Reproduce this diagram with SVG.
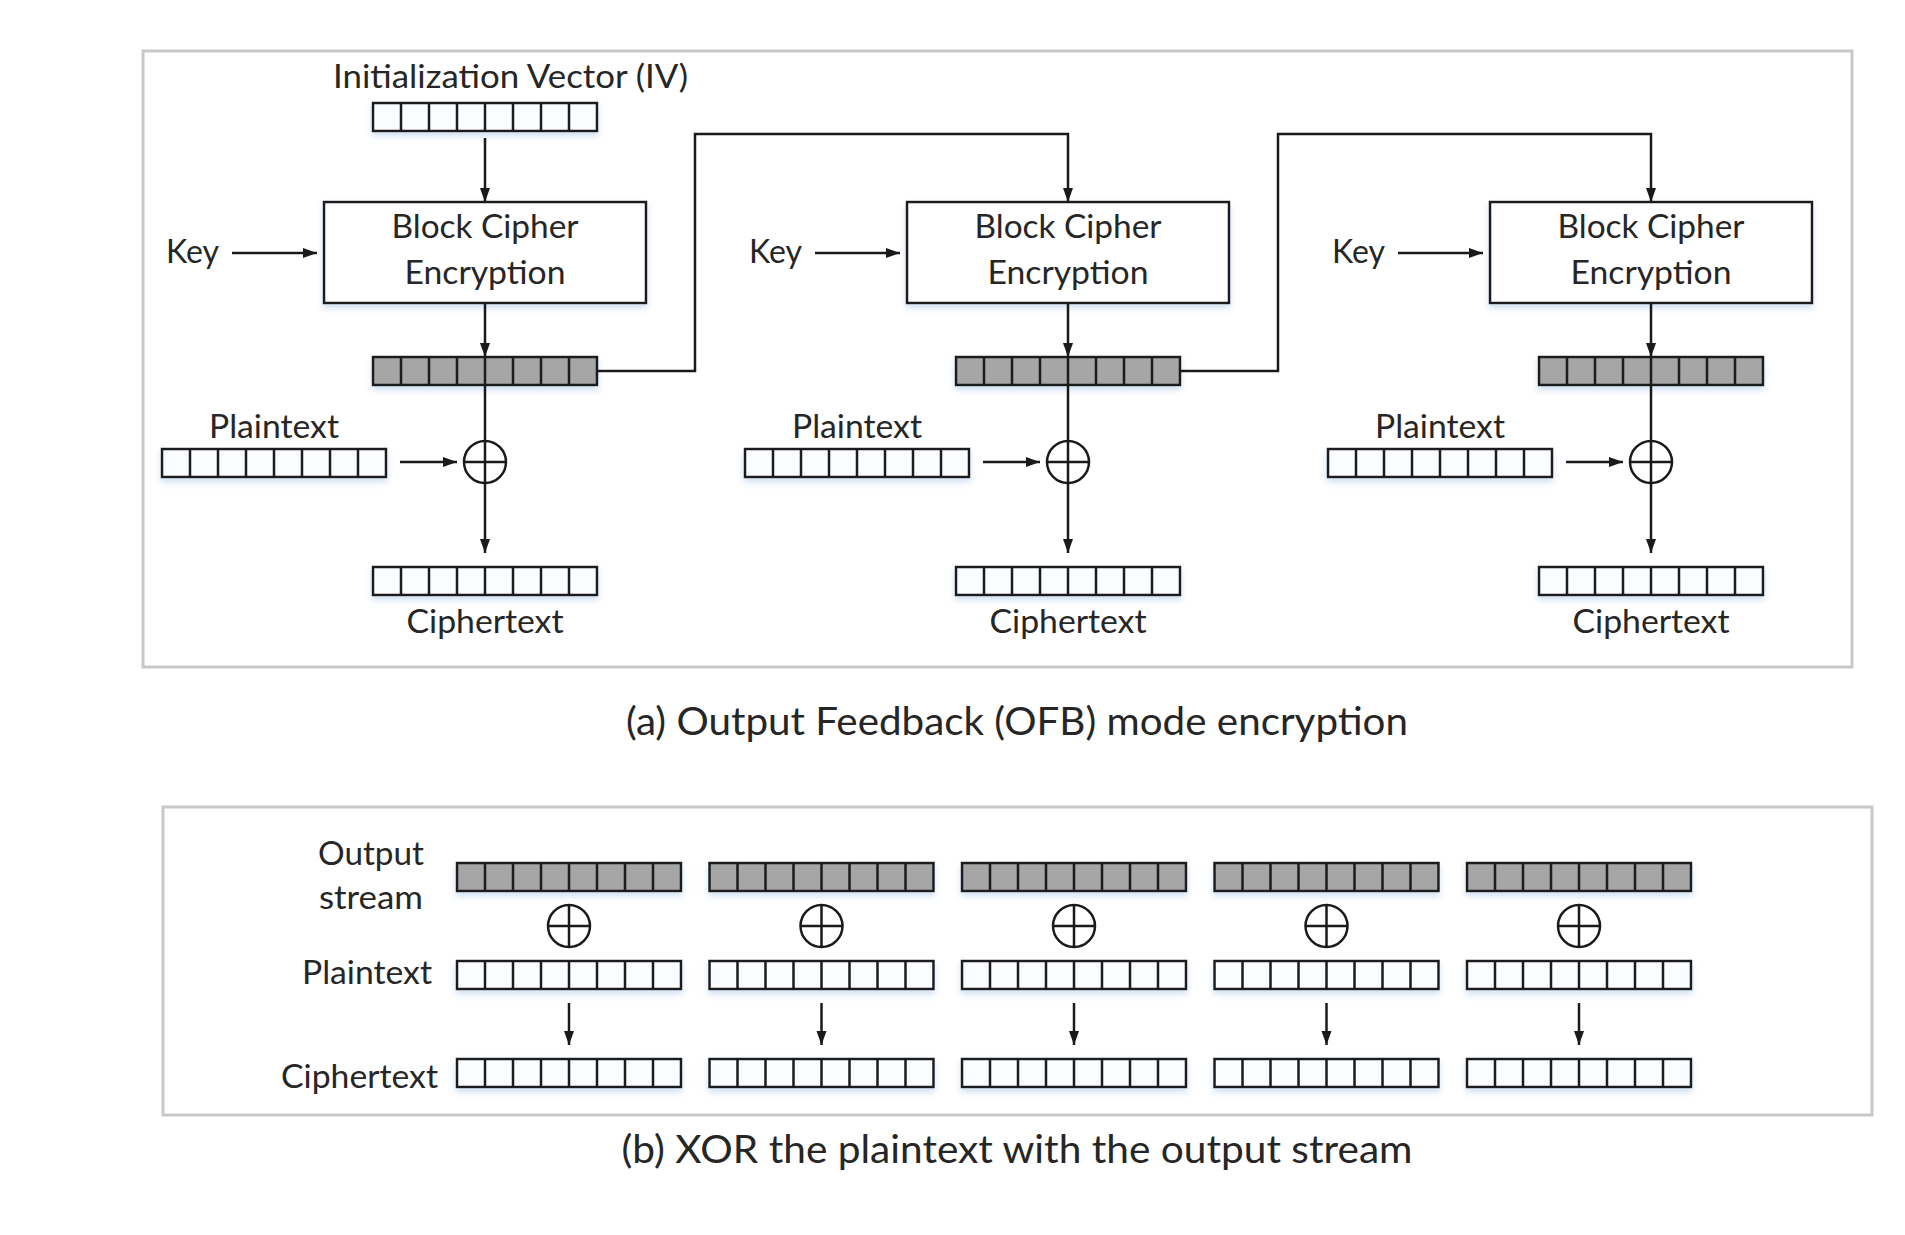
<svg xmlns="http://www.w3.org/2000/svg" xmlns:xlink="http://www.w3.org/1999/xlink" width="1905" height="1235" viewBox="0 0 1905 1235">
<style>
  text { font-family: Lato, "Liberation Sans", sans-serif; fill: #262626; }
  .lbl { font-size: 32px; }
  .cap { font-size: 39px; }
  .frame { fill: #ffffff; stroke: #c8c8c8; stroke-width: 3; }
  .blk { fill: #ffffff; stroke: #1a1a1a; stroke-width: 2.5; }
  .ln { fill: none; stroke: #1a1a1a; stroke-width: 2.5; }
  .arr { fill: none; stroke: #1a1a1a; stroke-width: 2.5; marker-end: url(#ah); }
  .xor { fill: none; stroke: #1a1a1a; stroke-width: 2.5; }
</style>
<defs>
  <filter id="sh" x="-10%" y="-30%" width="120%" height="180%">
    <feDropShadow dx="0" dy="4" stdDeviation="3" flood-color="#8fb2e0" flood-opacity="0.4"/>
  </filter>
  <marker id="ah" markerUnits="userSpaceOnUse" markerWidth="16" markerHeight="12" refX="14" refY="5" orient="auto">
    <path d="M0,0 L14,5 L0,10 z" fill="#1a1a1a"/>
  </marker>
  <g id="regW">
    <rect x="0" y="0" width="224" height="28" fill="#fbfcff" stroke="#1a1a1a" stroke-width="2.5"/>
    <path d="M28 0v28M56 0v28M84 0v28M112 0v28M140 0v28M168 0v28M196 0v28" stroke="#1a1a1a" stroke-width="2.5"/>
  </g>
  <g id="regG">
    <rect x="0" y="0" width="224" height="28" fill="#a6a6a6" stroke="#1a1a1a" stroke-width="2.5"/>
    <path d="M28 0v28M56 0v28M84 0v28M112 0v28M140 0v28M168 0v28M196 0v28" stroke="#1a1a1a" stroke-width="2.5"/>
  </g>
</defs>
<rect width="1905" height="1235" fill="#ffffff"/>

<g id="frame-a"><rect class="frame" x="143" y="51" width="1709" height="616"/></g>
<g id="frame-b"><rect class="frame" x="163" y="807" width="1709" height="308"/></g>

<g id="iv">
  <text class="lbl" x="333" y="88" textLength="355" lengthAdjust="spacingAndGlyphs">Initialization Vector (IV)</text>
  <use xlink:href="#regW" x="373" y="103" filter="url(#sh)"/>
</g>

<g id="stage1">
  <g id="s1-block"><rect class="blk" x="324" y="202" width="322" height="101" filter="url(#sh)"/>
    <text class="lbl" x="485" y="238" text-anchor="middle" textLength="187" lengthAdjust="spacingAndGlyphs">Block Cipher</text>
    <text class="lbl" x="485" y="284" text-anchor="middle" textLength="161" lengthAdjust="spacingAndGlyphs">Encryption</text></g>
  <g id="s1-key"><text class="lbl" x="166" y="263" textLength="53" lengthAdjust="spacingAndGlyphs">Key</text></g>
  <g id="s1-out"><use xlink:href="#regG" x="373" y="357" filter="url(#sh)"/></g>
  <g id="s1-plain"><text class="lbl" x="274" y="438" text-anchor="middle" textLength="130" lengthAdjust="spacingAndGlyphs">Plaintext</text>
    <use xlink:href="#regW" x="162" y="449" filter="url(#sh)"/></g>
  <g id="s1-xor"><circle class="xor" cx="485" cy="462" r="21"/><path class="ln" d="M464 462H506"/></g>
  <g id="s1-cipher"><use xlink:href="#regW" x="373" y="567" filter="url(#sh)"/>
    <text class="lbl" x="485" y="633" text-anchor="middle" textLength="157" lengthAdjust="spacingAndGlyphs">Ciphertext</text></g>
</g>

<g id="stage2" transform="translate(583,0)">
  <g id="s2-block"><rect class="blk" x="324" y="202" width="322" height="101" filter="url(#sh)"/>
    <text class="lbl" x="485" y="238" text-anchor="middle" textLength="187" lengthAdjust="spacingAndGlyphs">Block Cipher</text>
    <text class="lbl" x="485" y="284" text-anchor="middle" textLength="161" lengthAdjust="spacingAndGlyphs">Encryption</text></g>
  <g id="s2-key"><text class="lbl" x="166" y="263" textLength="53" lengthAdjust="spacingAndGlyphs">Key</text></g>
  <g id="s2-out"><use xlink:href="#regG" x="373" y="357" filter="url(#sh)"/></g>
  <g id="s2-plain"><text class="lbl" x="274" y="438" text-anchor="middle" textLength="130" lengthAdjust="spacingAndGlyphs">Plaintext</text>
    <use xlink:href="#regW" x="162" y="449" filter="url(#sh)"/></g>
  <g id="s2-xor"><circle class="xor" cx="485" cy="462" r="21"/><path class="ln" d="M464 462H506"/></g>
  <g id="s2-cipher"><use xlink:href="#regW" x="373" y="567" filter="url(#sh)"/>
    <text class="lbl" x="485" y="633" text-anchor="middle" textLength="157" lengthAdjust="spacingAndGlyphs">Ciphertext</text></g>
</g>

<g id="stage3" transform="translate(1166,0)">
  <g id="s3-block"><rect class="blk" x="324" y="202" width="322" height="101" filter="url(#sh)"/>
    <text class="lbl" x="485" y="238" text-anchor="middle" textLength="187" lengthAdjust="spacingAndGlyphs">Block Cipher</text>
    <text class="lbl" x="485" y="284" text-anchor="middle" textLength="161" lengthAdjust="spacingAndGlyphs">Encryption</text></g>
  <g id="s3-key"><text class="lbl" x="166" y="263" textLength="53" lengthAdjust="spacingAndGlyphs">Key</text></g>
  <g id="s3-out"><use xlink:href="#regG" x="373" y="357" filter="url(#sh)"/></g>
  <g id="s3-plain"><text class="lbl" x="274" y="438" text-anchor="middle" textLength="130" lengthAdjust="spacingAndGlyphs">Plaintext</text>
    <use xlink:href="#regW" x="162" y="449" filter="url(#sh)"/></g>
  <g id="s3-xor"><circle class="xor" cx="485" cy="462" r="21"/><path class="ln" d="M464 462H506"/></g>
  <g id="s3-cipher"><use xlink:href="#regW" x="373" y="567" filter="url(#sh)"/>
    <text class="lbl" x="485" y="633" text-anchor="middle" textLength="157" lengthAdjust="spacingAndGlyphs">Ciphertext</text></g>
</g>

<g id="caption-a"><text class="cap" x="1017" y="735" text-anchor="middle" textLength="782" lengthAdjust="spacingAndGlyphs">(a) Output Feedback (OFB) mode encryption</text></g>

<g id="labels-b">
  <text class="lbl" x="424" y="865" text-anchor="end" textLength="106" lengthAdjust="spacingAndGlyphs">Output</text>
  <text class="lbl" x="423" y="909" text-anchor="end" textLength="104" lengthAdjust="spacingAndGlyphs">stream</text>
  <text class="lbl" x="432" y="984" text-anchor="end" textLength="130" lengthAdjust="spacingAndGlyphs">Plaintext</text>
  <text class="lbl" x="438" y="1088" text-anchor="end" textLength="157" lengthAdjust="spacingAndGlyphs">Ciphertext</text>
</g>

<g id="col1"><use xlink:href="#regG" x="457" y="863" filter="url(#sh)"/>
  <circle class="xor" cx="569" cy="926" r="21"/><path class="ln" d="M548 926H590M569 905V947"/>
  <use xlink:href="#regW" x="457" y="961" filter="url(#sh)"/><use xlink:href="#regW" x="457" y="1059" filter="url(#sh)"/></g>
<g id="col2"><use xlink:href="#regG" x="709.5" y="863" filter="url(#sh)"/>
  <circle class="xor" cx="821.5" cy="926" r="21"/><path class="ln" d="M800.5 926H842.5M821.5 905V947"/>
  <use xlink:href="#regW" x="709.5" y="961" filter="url(#sh)"/><use xlink:href="#regW" x="709.5" y="1059" filter="url(#sh)"/></g>
<g id="col3"><use xlink:href="#regG" x="962" y="863" filter="url(#sh)"/>
  <circle class="xor" cx="1074" cy="926" r="21"/><path class="ln" d="M1053 926H1095M1074 905V947"/>
  <use xlink:href="#regW" x="962" y="961" filter="url(#sh)"/><use xlink:href="#regW" x="962" y="1059" filter="url(#sh)"/></g>
<g id="col4"><use xlink:href="#regG" x="1214.5" y="863" filter="url(#sh)"/>
  <circle class="xor" cx="1326.5" cy="926" r="21"/><path class="ln" d="M1305.5 926H1347.5M1326.5 905V947"/>
  <use xlink:href="#regW" x="1214.5" y="961" filter="url(#sh)"/><use xlink:href="#regW" x="1214.5" y="1059" filter="url(#sh)"/></g>
<g id="col5"><use xlink:href="#regG" x="1467" y="863" filter="url(#sh)"/>
  <circle class="xor" cx="1579" cy="926" r="21"/><path class="ln" d="M1558 926H1600M1579 905V947"/>
  <use xlink:href="#regW" x="1467" y="961" filter="url(#sh)"/><use xlink:href="#regW" x="1467" y="1059" filter="url(#sh)"/></g>

<g id="caption-b"><text class="cap" x="1017" y="1163" text-anchor="middle" textLength="791" lengthAdjust="spacingAndGlyphs">(b) XOR the plaintext with the output stream</text></g>

<g id="connectors">
  <path class="arr" d="M485 138V202"/>
  <path class="arr" d="M597 371H695V134H1068V202"/>
  <path class="arr" d="M1180 371H1278V134H1651V202"/>
  <g id="c-s1">
    <path class="arr" d="M232 253H317"/>
    <path class="arr" d="M485 303V357"/>
    <path class="arr" d="M485 385V553"/>
    <path class="arr" d="M400 462H457"/>
  </g>
  <g id="c-s2" transform="translate(583,0)">
    <path class="arr" d="M232 253H317"/>
    <path class="arr" d="M485 303V357"/>
    <path class="arr" d="M485 385V553"/>
    <path class="arr" d="M400 462H457"/>
  </g>
  <g id="c-s3" transform="translate(1166,0)">
    <path class="arr" d="M232 253H317"/>
    <path class="arr" d="M485 303V357"/>
    <path class="arr" d="M485 385V553"/>
    <path class="arr" d="M400 462H457"/>
  </g>
  <path class="arr" d="M569 1003V1045"/>
  <path class="arr" d="M821.5 1003V1045"/>
  <path class="arr" d="M1074 1003V1045"/>
  <path class="arr" d="M1326.5 1003V1045"/>
  <path class="arr" d="M1579 1003V1045"/>
</g>
</svg>
